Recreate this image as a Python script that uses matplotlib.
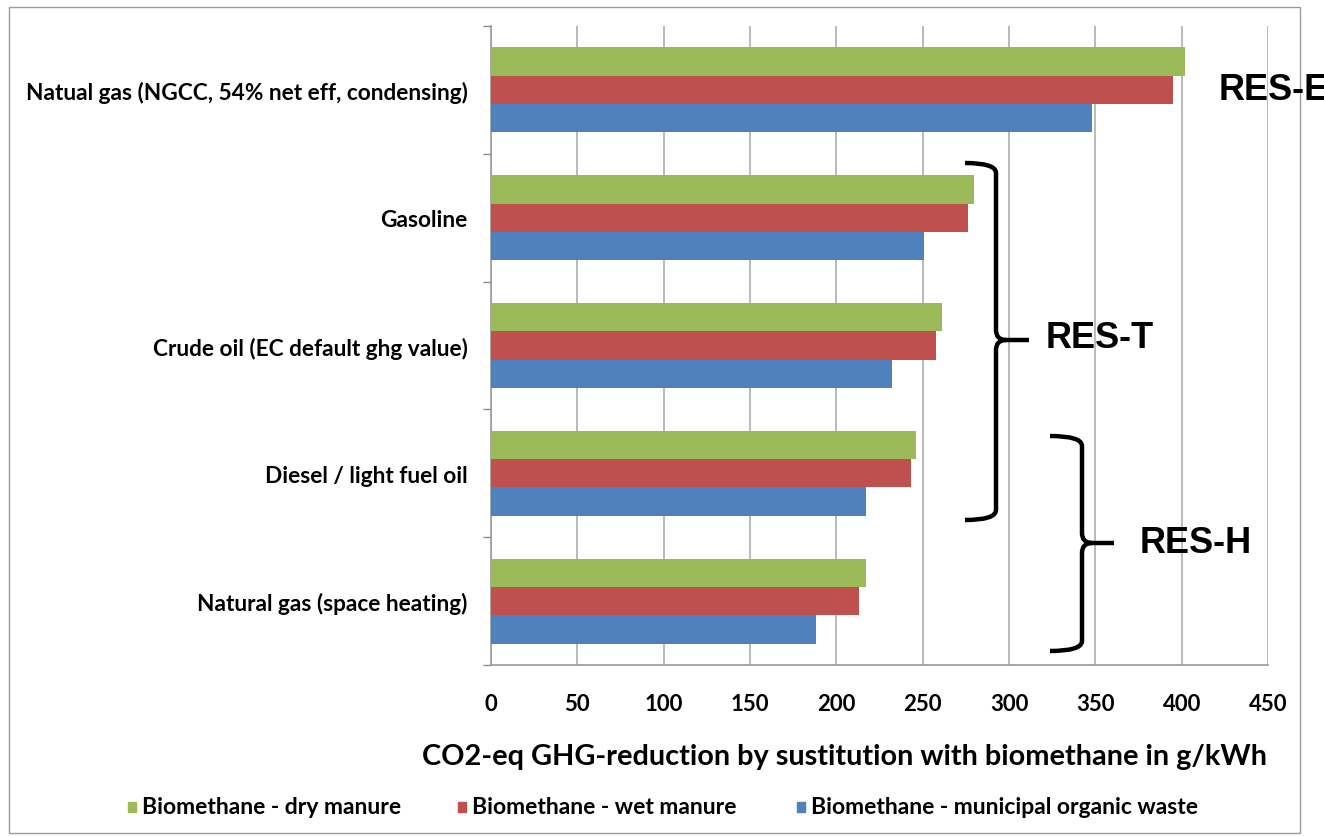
import matplotlib.pyplot as plt
from matplotlib.path import Path
from matplotlib.patches import PathPatch, Rectangle

categories = [
    "Natual gas (NGCC, 54% net eff, condensing)",
    "Gasoline",
    "Crude oil (EC default ghg value)",
    "Diesel / light fuel oil",
    "Natural gas (space heating)",
]
series_names = [
    "Biomethane - dry manure",
    "Biomethane - wet manure",
    "Biomethane - municipal organic waste",
]
dry_manure = [402, 280, 261, 246, 217]
wet_manure = [395, 276, 258, 243, 213]
municipal_waste = [348, 251, 232, 217, 188]
x_ticks = [0, 50, 100, 150, 200, 250, 300, 350, 400, 450]
x_title = "CO2-eq GHG-reduction by sustitution with biomethane in g/kWh"

colors = ["#9bbb59", "#c0504d", "#4f81bd"]
W, H = 1324, 837
LABEL_FONT = "Lato"

fig = plt.figure(figsize=(W / 100, H / 100), dpi=100)
ax = fig.add_axes([491 / W, 1 - 666 / H, (1268 - 491) / W, (666 - 27) / H])

n = len(categories)
ypos = [n - 1 - i for i in range(n)]
bar_h = 0.222
offsets = [bar_h, 0, -bar_h]
for vals, off, col in zip([dry_manure, wet_manure, municipal_waste], offsets, colors):
    ax.barh([y + off for y in ypos], vals, height=bar_h, color=col, zorder=3)

ax.set_xlim(0, 450)
ax.set_ylim(-0.5, n - 0.5)
ax.set_xticks(x_ticks)
ax.set_xticklabels([str(t) for t in x_ticks], fontsize=16, fontweight="bold",
                   family=LABEL_FONT)
ax.set_yticks(ypos)
ax.set_yticklabels(categories, fontsize=16.3, fontweight="bold", family=LABEL_FONT)
ax.set_yticks([i - 0.5 for i in range(n + 1)], minor=True)
ax.tick_params(axis="y", which="major", length=0, pad=17)
ax.tick_params(axis="y", which="minor", length=6, color="#8c8c8c", width=1)
ax.tick_params(axis="x", length=0, pad=20)
ax.grid(axis="x", color="#b4b4b4", linewidth=1.3, zorder=0)
for side in ["top", "right"]:
    ax.spines[side].set_visible(False)
for side in ["left", "bottom"]:
    ax.spines[side].set_color("#9a9a9a")
    ax.spines[side].set_linewidth(1.2)

fig.text(844 / W, 1 - 757 / H, x_title, ha="center", va="center",
         fontsize=20.8, fontweight="bold", family=LABEL_FONT)

# legend row under the axis title
leg_x = [128, 458, 797]
for x, name, col in zip(leg_x, series_names, colors):
    fig.patches.append(Rectangle((x / W, 1 - 813 / H), 8 / W, 10 / H,
                                 transform=fig.transFigure, color=col))
    fig.text((x + 14) / W, 1 - 808 / H, name, ha="left", va="center",
             fontsize=16.5, fontweight="bold", family=LABEL_FONT)

# outer chart frame
fig.patches.append(Rectangle((9 / W, 1 - 834 / H), (1300 - 9) / W, (834 - 8) / H,
                             transform=fig.transFigure, fill=False,
                             edgecolor="#9a9a9a", linewidth=1))


def brace(x0, xv, xt, y1, ym, y2, r=10):
    # curly bracket opening to the left, pixel coords with y downward
    pts = [(x0, y1), (xv, y1), (xv, y1 + r), (xv, ym - r), (xv, ym), (xv + r, ym),
           (xt, ym), (xv + r, ym), (xv, ym), (xv, ym + r), (xv, y2 - r), (xv, y2),
           (x0, y2)]
    codes = [Path.MOVETO, Path.CURVE3, Path.CURVE3, Path.LINETO, Path.CURVE3,
             Path.CURVE3, Path.LINETO, Path.MOVETO, Path.CURVE3, Path.CURVE3,
             Path.LINETO, Path.CURVE3, Path.CURVE3]
    verts = [(x / W, 1 - y / H) for x, y in pts]
    fig.patches.append(PathPatch(Path(verts, codes), transform=fig.transFigure,
                                 fill=False, edgecolor="black", linewidth=3.2,
                                 capstyle="butt", joinstyle="round"))


brace(965, 996, 1029, 164, 341, 521)
brace(1050, 1082, 1114, 437, 544, 652)

group_font = dict(fontsize=26, fontweight="bold", family="Liberation Sans",
                  ha="left", va="center")
fig.text(1046 / W, 1 - 339 / H, "RES-T", **group_font)
fig.text(1140 / W, 1 - 544 / H, "RES-H", **group_font)
fig.text(1219 / W, 1 - 91 / H, "RES-E", **group_font)

fig.savefig("out.png", dpi=100)
